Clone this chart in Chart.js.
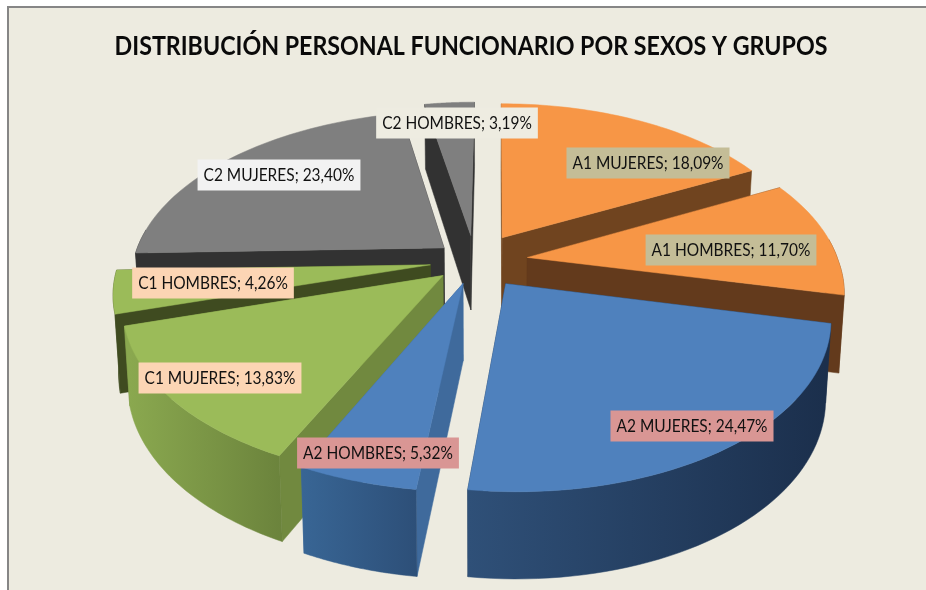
<!DOCTYPE html>
<html><head><meta charset="utf-8">
<style>html,body{margin:0;padding:0;background:#fff}#w{width:926px;height:590px}</style>
<script src="https://cdn.jsdelivr.net/npm/chart.js@4/dist/chart.umd.js"></script>
</head><body><div id="w"><canvas id="c" width="926" height="590"></canvas></div>
<script>
const chartTitle = 'DISTRIBUCIÓN PERSONAL FUNCIONARIO POR SEXOS Y GRUPOS';
const categories = ['A1 MUJERES','A1 HOMBRES','A2 MUJERES','A2 HOMBRES','C1 MUJERES','C1 HOMBRES','C2 MUJERES','C2 HOMBRES'];
const shares = [18.09,11.70,24.47,5.32,13.83,4.26,23.40,3.19];
const explode = [17,17,16.5,14,13.5,14.5,13,16];
const topColors = ['#f79646','#f79646','#4f81bd','#4f81bd','#9bbb59','#9bbb59','#7f7f7f','#7f7f7f'];
const sideColors = ['#70441f','#633a1c','#1f3550','#3f6a9c','#71893f','#3f4b20','#323232','#323232'];
const rimLeft = ['#7a4a22','#633a1c','#2f5078','#386594','#8aa84f','#3f4b20','#323232','#323232'];
const rimRight = ['#6a3f1d','#633a1c','#1b2f4c','#2d4f78','#6b833c','#3f4b20','#323232','#323232'];
const labelFill = ['#c4bd97','#c4bd97','#d99694','#d99694','#fcd5b4','#fcd5b4','#f2f2f2','#eeece1'];
const labelCenters = [[648,163],[731,250],[692,426],[378,453],[220,378],[213,283],[279,175],[457,123]];

const RX = 311, RY = 164, PERSP = 0.17, DEPTH = 76;
const fmt = v => v.toFixed(2).replace('.', ',') + '%';

function project(el, u, v, low) {
  const cx = el.x + 3, cy = 261;
  const s = 1 / (1 - PERSP * v);
  let x = RX * u * s, y = RY * v * s;
  if (low) { x *= 0.985; y += DEPTH * (1 + 0.13 * v); }
  x += v > 0 ? 5 * v : -3 * v;
  return [cx + x, cy + y];
}
class Arc3D extends Chart.ArcElement {
  static id = 'arc3d';
  draw(ctx) {
    const i = this.$index, a0 = this.startAngle, a1 = this.endAngle, mid = (a0 + a1) / 2;
    const off = this.options.offset / 100;
    const ou = Math.cos(mid) * off, ov = Math.sin(mid) * off;
    const steps = 48, rim = [], front = [];
    for (let k = 0; k <= steps; k++) {
      const a = a0 + (a1 - a0) * k / steps;
      const p = [ou + Math.cos(a), ov + Math.sin(a)];
      rim.push(p);
      if (Math.sin(a) > -0.12) front.push(p);
    }
    const poly = (pts, fill) => {
      ctx.beginPath();
      pts.forEach((p, n) => n ? ctx.lineTo(p[0], p[1]) : ctx.moveTo(p[0], p[1]));
      ctx.closePath(); ctx.fillStyle = fill; ctx.fill();
      ctx.strokeStyle = fill; ctx.lineWidth = 0.5; ctx.stroke();
    };
    const P = (p, low) => project(this, p[0], p[1], low);
    const apex = [ou, ov];
    const wall = (p) => [P(apex), P(p), P(p, true), P(apex, true)];
    const side = sideColors[i];
    const walls = [
      {v: (ov + rim[0][1]) / 2, draw: () => poly(wall(rim[0]), side)},
      {v: (ov + rim[steps][1]) / 2, draw: () => poly(wall(rim[steps]), side)}
    ];
    if (front.length > 1) {
      const fTop = front.map(p => P(p)), fLow = front.map(p => P(p, true));
      const xs = fLow.map(p => p[0]);
      const g = ctx.createLinearGradient(Math.min(...xs), 0, Math.max(...xs), 0);
      g.addColorStop(0, rimLeft[i]); g.addColorStop(1, rimRight[i]);
      walls.push({v: rim[steps >> 1][1], draw: () => poly(fTop.concat(fLow.slice().reverse()), g)});
    }
    walls.sort((a, b) => a.v - b.v).forEach(w => w.draw());
    poly([P(apex)].concat(rim.map(p => P(p))), this.options.backgroundColor);
  }
}
class Pie3D extends Chart.PieController {
  static id = 'pie3d';
  static defaults = { dataElementType: 'arc3d' };
  draw() {
    const ctx = this.chart.ctx;
    const els = this._cachedMeta.data.map((e, i) => { e.$index = i; return e; });
    els.slice().sort((a, b) =>
      Math.sin((a.startAngle + a.endAngle) / 2) - Math.sin((b.startAngle + b.endAngle) / 2)
    ).forEach(e => e.draw(ctx));
  }
}
Chart.register(Arc3D, Pie3D);

const framePlugin = {
  id: 'frame',
  beforeDraw(chart) {
    const c = chart.ctx, W = chart.width, H = chart.height;
    c.save();
    c.fillStyle = '#ffffff'; c.fillRect(0, 0, W, H);
    c.fillStyle = '#edebe0'; c.fillRect(8, 7, W - 8, H - 7);
    c.fillStyle = '#868686'; c.fillRect(7, 6, W - 7, 2); c.fillRect(7, 6, 2, H - 6);
    c.restore();
  }
};
const labelPlugin = {
  id: 'sliceLabels',
  afterDatasetsDraw(chart) {
    const c = chart.ctx, sx = 0.91;
    c.save();
    c.font = '17px Lato'; c.textAlign = 'center'; c.textBaseline = 'middle';
    categories.forEach((name, i) => {
      const t = name + '; ' + fmt(shares[i]);
      const w = c.measureText(t).width * sx + 12, h = 31, [x, y] = labelCenters[i];
      c.fillStyle = labelFill[i]; c.fillRect(x - w / 2, y - h / 2, w, h);
      c.save(); c.translate(x, y + 1); c.scale(sx, 1);
      c.fillStyle = '#111111'; c.fillText(t, 0, 0);
      c.restore();
    });
    c.restore();
  }
};

const chart = new Chart(document.getElementById('c'), {
  type: 'pie3d',
  data: { labels: categories, datasets: [{ data: shares, backgroundColor: topColors, offset: explode }] },
  options: {
    responsive: false, animation: false, events: [],
    layout: { padding: { left: 18, right: 0, top: 0, bottom: 136 } },
    plugins: {
      legend: { display: false }, tooltip: { enabled: false },
      title: { display: true, text: chartTitle, color: '#0a0a0a',
        font: { family: 'Lato', size: 27, weight: 'bold' }, padding: { top: 30, bottom: 10 } }
    }
  },
  plugins: [framePlugin, labelPlugin]
});
/* Calibri-like proportions: the title block is condensed horizontally around its centre */
const block = chart.titleBlock, baseDraw = block.draw;
block.draw = function () {
  const c = chart.ctx, mx = 471;
  c.save(); c.translate(mx, 0); c.scale(0.86, 1); c.translate(-(this.left + this.right) / 2, 0);
  baseDraw.call(this);
  c.restore();
};
chart.draw();
</script></body></html>
